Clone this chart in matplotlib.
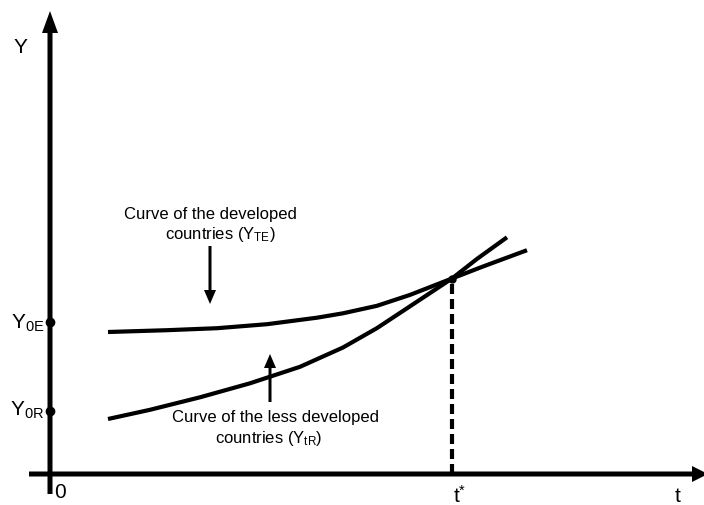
import matplotlib
matplotlib.use("Agg")
import matplotlib.pyplot as plt

plt.rcParams['font.family'] = ['Liberation Sans', 'DejaVu Sans']
plt.rcParams['mathtext.fontset'] = 'custom'
plt.rcParams['mathtext.rm'] = 'Liberation Sans'
plt.rcParams['mathtext.it'] = 'Liberation Sans'

# Curve of the developed countries (Y_TE)
t_dev = [5.8, 11.7, 16.7, 21.7, 26.7, 29.3, 32.7, 36.0, 40.2, 43.3, 47.7]
Y_dev = [14.2, 14.38, 14.58, 14.98, 15.63, 16.07, 16.82, 17.91, 19.55, 20.75, 22.38]
# Curve of the less developed countries (Y_tR)
t_less = [5.8, 10.0, 15.0, 20.0, 25.0, 29.3, 32.7, 36.0, 40.2, 42.7, 45.7]
Y_less = [5.5, 6.42, 7.67, 9.07, 10.72, 12.65, 14.59, 16.77, 19.55, 21.51, 23.67]
# key points
t_star, Y_star = 40.2, 19.55
Y0E, Y0R = 15.2, 6.3

fig = plt.figure(figsize=(7.04, 5.06), dpi=100)
ax = fig.add_axes([0, 0, 1, 1])
ax.set_xlim(-5.0, 65.4)
ax.set_ylim(-3.1, 47.5)
ax.axis('off')

k = 'black'
# axes
ax.arrow(0, -2.0, 0, 48.3, width=0.5, head_width=1.6, head_length=2.2,
         length_includes_head=True, color=k, lw=0)
ax.arrow(-2.1, 0, 67.9, 0, width=0.5, head_width=1.6, head_length=1.6,
         length_includes_head=True, color=k, lw=0)

# curves
ax.plot(t_dev, Y_dev, color=k, lw=3, solid_capstyle='butt', solid_joinstyle='round')
ax.plot(t_less, Y_less, color=k, lw=3, solid_capstyle='butt', solid_joinstyle='round')

# dashed drop line
ax.plot([t_star, t_star], [0, Y_star], color=k, lw=3, dashes=(2.4, 1.2))
ax.plot([t_star], [Y_star], 'o', color=k, ms=5)

# dots on Y axis
ax.plot([0, 0], [Y0E, Y0R], 'o', color=k, ms=6)

# annotation arrows
ax.arrow(16.0, 22.8, 0, -5.8, width=0.3, head_width=1.2, head_length=1.4,
         length_includes_head=True, color=k, lw=0)
ax.arrow(22.0, 7.2, 0, 4.8, width=0.3, head_width=1.2, head_length=1.4,
         length_includes_head=True, color=k, lw=0)

# labels
fs = 12
ax.text(-3.0, 42.8, 'Y', fontsize=15, ha='center', va='center')
ax.text(-0.6, 15.2, r'$\mathrm{Y}_{\mathrm{0E}}$', fontsize=15, ha='right', va='center')
ax.text(-0.6, 6.5, r'$\mathrm{Y}_{\mathrm{0R}}$', fontsize=15, ha='right', va='center')
ax.text(1.0, -1.8, '0', fontsize=15, ha='center', va='center')
ax.text(62.8, -2.2, 't', fontsize=15, ha='center', va='center')
ax.text(41.0, -2.1, r'$\mathrm{t}^{*}$', fontsize=15, ha='center', va='center')

ax.text(16.0, 26.0, 'Curve of the developed', fontsize=fs, ha='center', va='center')
ax.text(17.0, 24.0, r'countries (Y$_{\mathrm{TE}}$)', fontsize=fs, ha='center', va='center')
ax.text(22.6, 5.7, 'Curve of the less developed', fontsize=fs, ha='center', va='center')
ax.text(21.9, 3.6, r'countries (Y$_{\mathrm{tR}}$)', fontsize=fs, ha='center', va='center')

# cut-off panel title at the very top
fig.text(430 / 704, 1 + 5 / 506, '(a)', fontsize=14, ha='center', va='baseline')

fig.savefig('out.png', dpi=100)
